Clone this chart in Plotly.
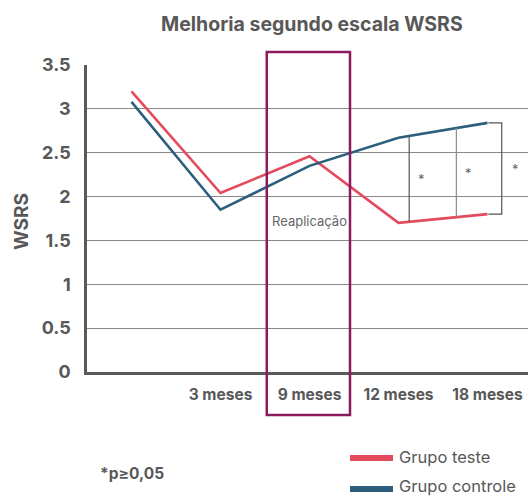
import numpy as np
import plotly.graph_objects as go

# ---- data ----
categories = ["", "3 meses", "9 meses", "12 meses", "18 meses"]
grupo_teste = [3.20, 2.04, 2.46, 1.70, 1.80]
grupo_controle = [3.08, 1.85, 2.35, 2.67, 2.84]
y_ticks = [0, 0.5, 1, 1.5, 2, 2.5, 3, 3.5]
y_tick_labels = ["0", "0.5", "1", "1.5", "2", "2.5", "3", "3.5"]

RED = "#E34A5C"
BLUE = "#2C5F7E"
PURPLE = "#8C1B5B"
TXT = "#585858"
FONT = "Inter"

W, H = 528, 496
# plot area in page pixels: left 87, top 65, bottom 372, right 528
L, T = 87, 65
B = H - 372
R = 0
pw, ph = W - L - R, H - T - B


def px_x(p):
    return (p - L) / pw


def px_y(p):
    return (H - B - p) / ph


xs = list(range(len(categories)))

fig = go.Figure()
fig.add_trace(go.Scatter(x=xs, y=grupo_teste, mode="lines", name="Grupo teste",
                         line=dict(color=RED, width=2.6), showlegend=False))
fig.add_trace(go.Scatter(x=xs, y=grupo_controle, mode="lines", name="Grupo controle",
                         line=dict(color=BLUE, width=2.6), showlegend=False))

shapes = []
annotations = []


def note(text, x, y, size, color=TXT, xref="paper", yref="paper", xanchor="center", **kw):
    annotations.append(dict(text=text, xref=xref, yref=yref, x=x, y=y, xanchor=xanchor,
                            yanchor="middle", showarrow=False,
                            font=dict(family=FONT, size=size, color=color), **kw))


# Reaplicação box around 9 meses
i9 = categories.index("9 meses")
shapes.append(dict(type="rect", xref="x", yref="paper", x0=i9 - 0.48, x1=i9 + 0.455,
                   y0=px_y(415), y1=px_y(52), line=dict(color=PURPLE, width=2.5),
                   fillcolor="rgba(0,0,0,0)", layer="above"))
note("Reaplicação", i9, px_y(221), 13, color="#666666", xref="x")

# significance brackets
i12 = categories.index("12 meses")
i18 = categories.index("18 meses")
for bx, col in [(i12 + 0.12, "#555555"), (i12 + 0.65, "#8a8a8a")]:
    y0 = float(np.interp(bx, xs, grupo_teste))
    y1 = float(np.interp(bx, xs, grupo_controle))
    shapes.append(dict(type="line", xref="x", yref="y", x0=bx, x1=bx, y0=y0, y1=y1,
                       line=dict(color=col, width=1.2)))
    note("*", bx + 0.14, (y0 + y1) / 2, 13, color="#666666", xref="x", yref="y")
bx = i18 + 0.16
yt, yb = grupo_controle[i18], grupo_teste[i18]
shapes.append(dict(type="path", xref="x", yref="y",
                   path=f"M {i18 + 0.01},{yt} L {bx},{yt} L {bx},{yb} L {i18 + 0.01},{yb}",
                   line=dict(color="#555555", width=1.2)))
note("*", bx + 0.15, (yt + yb) / 2, 13, color="#666666", xref="x", yref="y")

# title
note("<b>Melhoria segundo escala WSRS</b>", px_x(312), px_y(24), 19.5)
# y-axis title
note("<b>WSRS</b>", px_x(21), px_y(222), 19, textangle=-90)
# note
note("<b>*p≥0,05</b>", px_x(98), px_y(473), 15.5, xanchor="left")
# legend
for name, col, py, ty in [("Grupo teste", RED, 458, 457), ("Grupo controle", BLUE, 489, 485.5)]:
    shapes.append(dict(type="line", xref="paper", yref="paper", x0=px_x(350), x1=px_x(393),
                       y0=px_y(py), y1=px_y(py), line=dict(color=col, width=6)))
    note(name, px_x(397), px_y(ty), 16.5, xanchor="left")

fig.update_layout(
    width=W, height=H, margin=dict(l=L, r=R, t=T, b=B, pad=0),
    paper_bgcolor="white", plot_bgcolor="white",
    shapes=shapes, annotations=annotations,
    xaxis=dict(range=[-0.5, pw / 89 - 0.5], tickvals=xs[1:],
               ticktext=[f"<b>{c}</b>" for c in categories[1:]],
               showgrid=False, zeroline=False, showline=True, linecolor="#5a5a5a", linewidth=2.5,
               ticks="", ticklabelstandoff=7, tickfont=dict(family=FONT, size=15.5, color=TXT),
               fixedrange=True),
    yaxis=dict(range=[0, 3.5], tickvals=y_ticks, ticktext=[f"<b>{t}</b>" for t in y_tick_labels],
               showgrid=True, gridcolor="#8a8a8a", gridwidth=1, zeroline=False,
               showline=True, linecolor="#5a5a5a", linewidth=2.5, ticks="",
               ticklabelstandoff=10, tickfont=dict(family=FONT, size=18, color=TXT),
               fixedrange=True),
)

fig.write_html(
    "out.html",
    config={"displayModeBar": False},
    post_script="document.body.style.margin='0';document.body.style.overflow='hidden';",
)
